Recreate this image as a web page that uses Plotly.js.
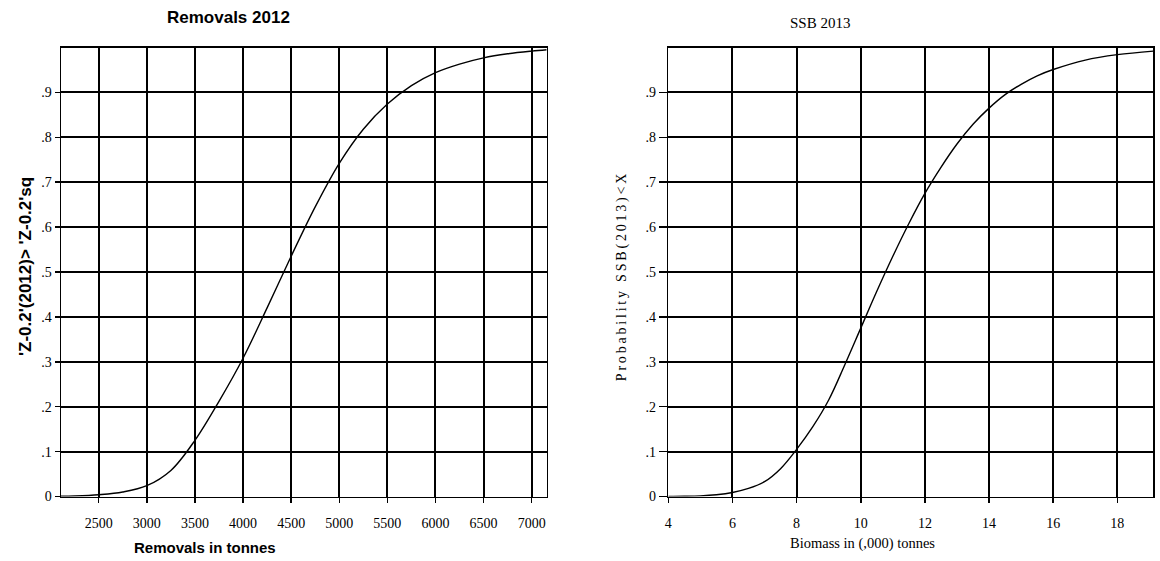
<!DOCTYPE html>
<html>
<head>
<meta charset="utf-8">
<script src="https://cdn.plot.ly/plotly-3.0.1.min.js"></script>
<style>
  html, body { margin: 0; padding: 0; background: #fff; }
  #chart { width: 1160px; height: 561px; }
  /* spaced-out lettering for the right-hand probability label */
  g.annotation[data-index="5"] text { letter-spacing: 2.8px; }
</style>
</head>
<body>
<div id="chart"></div>
<script>
// Cumulative probability of removals in 2012
const removalsX = [2108, 2250, 2500, 2750, 3000, 3250, 3500, 3750, 4000, 4250, 4500, 4750, 5000, 5250, 5500, 5750, 6000, 6250, 6500, 6750, 7000, 7156];
const removalsP = [0.0005, 0.0012, 0.004, 0.010, 0.024, 0.058, 0.125, 0.212, 0.308, 0.42, 0.535, 0.645, 0.742, 0.818, 0.874, 0.915, 0.944, 0.963, 0.977, 0.986, 0.992, 0.995];

// Cumulative probability of spawning stock biomass in 2013 ('000 t)
const biomassX = [4, 4.5, 5, 5.5, 6, 6.5, 7, 7.5, 8, 8.5, 9, 9.5, 10, 10.5, 11, 11.5, 12, 12.5, 13, 13.5, 14, 14.5, 15, 15.5, 16, 17, 18, 19.12];
const ssbP = [0.0, 0.0005, 0.0015, 0.004, 0.009, 0.018, 0.033, 0.062, 0.105, 0.155, 0.215, 0.293, 0.375, 0.457, 0.535, 0.608, 0.675, 0.733, 0.785, 0.829, 0.865, 0.895, 0.918, 0.937, 0.951, 0.972, 0.984, 0.992];

// Tick values and labels
const removalTicks = [2500, 3000, 3500, 4000, 4500, 5000, 5500, 6000, 6500, 7000];
const biomassTicks = [4, 6, 8, 10, 12, 14, 16, 18];
const probTicks = [0, 0.1, 0.2, 0.3, 0.4, 0.5, 0.6, 0.7, 0.8, 0.9];
const probLabels = ['0', '.1', '.2', '.3', '.4', '.5', '.6', '.7', '.8', '.9'];

const W = 1160, H = 561;
const px = v => v / W;
const py = v => 1 - v / H;

const serif = 'Liberation Serif, Times New Roman, serif';
const sans = 'Liberation Sans, Arial, sans-serif';

const tickFont = { family: serif, size: 14, color: '#000' };

const xBase = {
  showgrid: true, gridcolor: '#000', gridwidth: 2,
  showline: true, linecolor: '#000', linewidth: 1.5, mirror: true,
  ticks: 'outside', ticklen: 5, tickwidth: 1.5, tickcolor: '#000',
  tickfont: tickFont, ticklabelstandoff: 8,
  zeroline: false, fixedrange: true
};
const yBase = {
  range: [0, 1], tickmode: 'array', tickvals: probTicks, ticktext: probLabels,
  showgrid: true, gridcolor: '#000', gridwidth: 2,
  showline: true, linecolor: '#000', linewidth: 1.5, mirror: true,
  ticks: 'outside', tickwidth: 1.5, tickcolor: '#000',
  tickfont: tickFont, zeroline: false, fixedrange: true,
  domain: [py(496.5), py(47.5)]
};

const curveLine = { color: '#000', width: 1.4, shape: 'spline', smoothing: 1 };

const traces = [
  { x: removalsX, y: removalsP, xaxis: 'x', yaxis: 'y',
    type: 'scatter', mode: 'lines', line: curveLine, hoverinfo: 'skip' },
  { x: biomassX, y: ssbP, xaxis: 'x2', yaxis: 'y2',
    type: 'scatter', mode: 'lines', line: curveLine, hoverinfo: 'skip' }
];

const layout = {
  width: W, height: H,
  margin: { l: 0, r: 0, t: 0, b: 0 },
  paper_bgcolor: '#fff', plot_bgcolor: '#fff',
  showlegend: false,
  xaxis: Object.assign({}, xBase, {
    range: [2108, 7156], tickmode: 'array', tickvals: removalTicks,
    domain: [px(61), px(546.7)], anchor: 'y'
  }),
  yaxis: Object.assign({}, yBase, { ticklen: 5, anchor: 'x' }),
  xaxis2: Object.assign({}, xBase, {
    range: [4, 19.12], tickmode: 'array', tickvals: biomassTicks,
    domain: [px(668.3), px(1153.3)], anchor: 'y2'
  }),
  yaxis2: Object.assign({}, yBase, { ticklen: 8, anchor: 'x2' }),
  annotations: [
    { text: 'Removals 2012', x: px(228), y: py(17.5), xref: 'paper', yref: 'paper',
      showarrow: false, xanchor: 'center', yanchor: 'middle',
      font: { family: sans, size: 17, color: '#000', weight: 'bold' } },
    { text: 'Removals in tonnes', x: px(205), y: py(547), xref: 'paper', yref: 'paper',
      showarrow: false, xanchor: 'center', yanchor: 'middle',
      font: { family: sans, size: 15, color: '#000', weight: 'bold' } },
    { text: "'Z-0.2'(2012)> 'Z-0.2'sq", x: px(25), y: py(267), xref: 'paper', yref: 'paper',
      showarrow: false, xanchor: 'center', yanchor: 'middle', textangle: -90,
      font: { family: sans, size: 17, color: '#000', weight: 'bold' } },
    { text: 'SSB 2013', x: px(820), y: py(23), xref: 'paper', yref: 'paper',
      showarrow: false, xanchor: 'center', yanchor: 'middle',
      font: { family: serif, size: 15, color: '#000' } },
    { text: 'Biomass in (,000) tonnes', x: px(862), y: py(543), xref: 'paper', yref: 'paper',
      showarrow: false, xanchor: 'center', yanchor: 'middle',
      font: { family: serif, size: 14.5, color: '#000' } },
    { text: 'Probability SSB(2013)<X', x: px(622), y: py(276), xref: 'paper', yref: 'paper',
      showarrow: false, xanchor: 'center', yanchor: 'middle', textangle: -90,
      font: { family: serif, size: 14, color: '#000' } }
  ]
};

Plotly.newPlot('chart', traces, layout, { displayModeBar: false, staticPlot: true });
</script>
</body>
</html>
